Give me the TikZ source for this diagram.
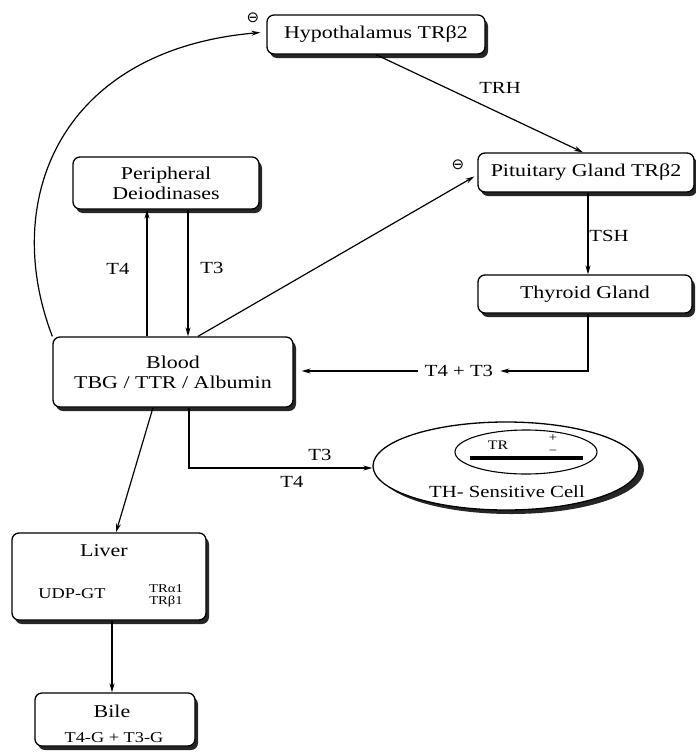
\documentclass[tikz,border=0pt]{standalone}
\usepackage{fontspec}
\setmainfont[FakeStretch=1.22]{Liberation Serif}
\newfontfamily\symfont{DejaVu Sans}
\usetikzlibrary{shapes.geometric,shadows,arrows.meta}
\begin{document}
\begin{tikzpicture}[x=1pt,y=-1pt,
  box/.style={draw=black,line width=1.3pt,rounded corners=7pt,fill=white,
    align=center,inner sep=0pt,font=\fontsize{18}{20}\selectfont,
    drop shadow={shadow xshift=3pt,shadow yshift=-4pt,fill=black!85,opacity=1}},
  arr/.style={line width=1.2pt,-{Stealth[length=9pt,width=5pt]}},
  lbl/.style={font=\fontsize{17}{19}\selectfont,inner sep=1pt},
  neg/.style={font=\symfont\fontsize{15}{15}\selectfont,inner sep=0pt}]
\useasboundingbox (0,0) rectangle (696,753);
% boxes
\node[box,minimum width=218pt,minimum height=39pt] (hyp) at (376,34.5) {Hypothalamus TRβ2};
\node[box,minimum width=216pt,minimum height=39pt] (pit) at (586,172.5) {Pituitary Gland TRβ2};
\node[box,minimum width=214pt,minimum height=38pt] (thy) at (585,294) {Thyroid Gland};
\node[box,minimum width=186pt,minimum height=52pt] (peri) at (166,183) {Peripheral\\Deiodinases};
\node[box,minimum width=240pt,minimum height=70pt] (blood) at (173,372) {Blood\\TBG / TTR / Albumin};
\node[box,minimum width=194pt,minimum height=87pt] (liver) at (109,576.5) {};
\node[box,minimum width=160pt,minimum height=53pt] (bile) at (115,719.5) {};
% liver and bile contents
\node[font=\fontsize{18}{20}\selectfont,inner sep=0pt] (livt) at (104,551) {Liver};
\node[font=\fontsize{15}{17}\selectfont,inner sep=0pt] (udp) at (72,594) {UDP-GT};
\node[font=\fontsize{12}{12}\selectfont,inner sep=0pt,align=center] (trs) at (166,596) {TRα1\\TRβ1};
\node[font=\fontsize{18}{20}\selectfont,inner sep=0pt] (bilet) at (112,711) {Bile};
\node[font=\fontsize{15}{17}\selectfont,inner sep=0pt] (tg) at (114,738) {T4-G + T3-G};
% cell
\node[ellipse,draw=black,line width=1.3pt,fill=white,minimum width=266pt,minimum height=88pt,
  inner sep=0pt,drop shadow={shadow xshift=5pt,shadow yshift=-4pt,fill=black!85,opacity=1}] (cell) at (506,466) {};
\node[ellipse,draw=black,line width=1.1pt,minimum width=142pt,minimum height=44pt,inner sep=0pt] (nuc) at (526,452) {};
\node[fill=black,minimum width=113pt,minimum height=4pt,inner sep=0pt] (bar) at (526.5,458) {};
\node[font=\fontsize{13}{13}\selectfont,inner sep=0pt] (trt) at (498,445) {TR};
\node[font=\fontsize{12}{12}\selectfont,inner sep=0pt] (plus) at (553,438) {+};
\node[font=\fontsize{12}{12}\selectfont,inner sep=0pt] (minus) at (553,452.5) {−};
\node[font=\fontsize{17}{19}\selectfont,inner sep=0pt] (cellt) at (507,492) {TH- Sensitive Cell};
% labels
\node[lbl] (trh) at (500,88) {TRH};
\node[lbl] (tsh) at (609,236) {TSH};
\node[lbl] (t4a) at (118,269) {T4};
\node[lbl] (t3a) at (212,268) {T3};
\node[lbl] (t3b) at (320,455) {T3};
\node[lbl] (t4b) at (292,482) {T4};
\node[lbl,inner sep=7pt] (t43) at (459,371) {T4 + T3};
\node[neg] (n1) at (253,18) {⊖};
\node[neg] (n2) at (458,165) {⊖};
% connectors
\draw[arr] (blood.north west) .. controls (0,200) and (60,50) .. ([xshift=-6pt,yshift=2pt]hyp.west);
\draw[arr] (hyp.south) -- ([xshift=-3pt]pit.north);
\draw[arr] ([xshift=25pt]blood.north) -- ([xshift=-3pt,yshift=-4pt]pit.west);
\draw[arr] ([xshift=2pt]pit.south) -- ([xshift=2pt]pit.south |- thy.north);
\draw[arr] ([xshift=3pt]thy.south) |- (t43.east);
\draw[arr] (t43.west) -- ([xshift=8pt]blood.east |- t43.west);
\draw[arr] ([xshift=-26pt]blood.north) -- ([xshift=-26pt]blood.north |- peri.south);
\draw[arr] ([xshift=15pt]blood.north |- peri.south) -- ([xshift=15pt]blood.north);
\draw[arr] ([xshift=16pt]blood.south) |- ([yshift=-2pt]cell.west);
\draw[arr] ([xshift=-20pt]blood.south) -- ([xshift=7pt]liver.north);
\draw[arr] ([xshift=3pt]liver.south) -- ([xshift=3pt]liver.south |- bile.north);
\end{tikzpicture}
\end{document}
